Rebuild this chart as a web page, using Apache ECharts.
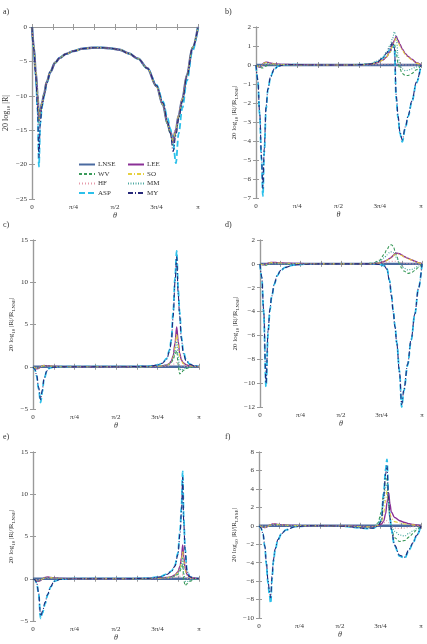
<!DOCTYPE html>
<html>
<head>
<meta charset="utf-8">
<script src="https://cdn.jsdelivr.net/npm/echarts@6/dist/echarts.min.js"></script>
<style>
html, body { margin: 0; padding: 0; background: #fff; }
#chart { width: 427px; height: 644px; }
</style>
</head>
<body>
<div id="chart"></div>
<script>
// angle in degrees (0..180 -> 0..pi)
var xTickValues = [0, 45, 90, 135, 180];
var xTickLabels = ['0', 'π/4', 'π/2', '3π/4', 'π'];
var seriesNames = ['LNSE', 'WV', 'HF', 'ASP', 'LEE', 'SO', 'MM', 'MY'];

// LNSE is the reference in b-f, so its ratio is flat
var xFlat = [0, 180];
var zeroLNSE = [0, 0];

// a) 20 log10 |R|
var xA = [0, 2, 4, 6, 7.5, 9, 11, 13, 16, 20, 25, 30, 37, 45, 55, 65, 75, 85, 95, 105, 115, 125, 135, 142, 147, 150, 153, 156, 159, 163, 168, 174, 180];
var aLNSE = [0, -3.0, -6.5, -9.8, -13.5, -12.3, -11.0, -9.8, -8.0, -6.5, -5.2, -4.5, -3.9, -3.5, -3.15, -3.02, -3.0, -3.1, -3.3, -3.85, -4.6, -6.0, -8.6, -11.3, -14.0, -15.3, -16.4, -15.0, -12.9, -10.5, -7.0, -3.0, 0];
var aWV = [0, -3.0, -6.6, -10.0, -14.0, -12.5, -11.1, -9.8, -8.0, -6.5, -5.2, -4.5, -3.9, -3.5, -3.15, -3.02, -3.0, -3.1, -3.3, -3.85, -4.6, -6.0, -8.6, -11.4, -14.2, -15.6, -17.2, -15.6, -13.2, -10.7, -7.1, -3.0, 0];
var aHF = [0, -3.0, -6.5, -9.7, -13.2, -12.2, -11.0, -9.8, -8.0, -6.5, -5.2, -4.5, -3.9, -3.5, -3.15, -3.02, -3.0, -3.1, -3.3, -3.85, -4.6, -6.0, -8.6, -11.2, -13.9, -15.1, -16.0, -14.8, -12.8, -10.4, -7.0, -3.0, 0];
var aASP = [0, -3.2, -7.0, -12.0, -20.3, -14.0, -11.5, -10.0, -8.1, -6.5, -5.2, -4.5, -3.9, -3.5, -3.15, -3.02, -3.0, -3.1, -3.3, -3.85, -4.6, -6.0, -8.4, -10.8, -13.2, -14.8, -16.8, -19.8, -15.5, -11.8, -7.8, -3.5, 0];
var aLEE = [0, -3.0, -6.5, -9.8, -13.7, -12.4, -11.0, -9.8, -8.0, -6.5, -5.2, -4.5, -3.9, -3.5, -3.15, -3.02, -3.0, -3.1, -3.3, -3.85, -4.6, -6.0, -8.6, -11.3, -14.0, -15.4, -16.8, -15.2, -13.0, -10.5, -7.0, -3.0, 0];
var aSO = [0, -3.0, -6.5, -9.8, -13.6, -12.3, -11.0, -9.8, -8.0, -6.5, -5.2, -4.5, -3.9, -3.5, -3.15, -3.02, -3.0, -3.1, -3.3, -3.85, -4.6, -6.0, -8.6, -11.3, -14.0, -15.3, -16.6, -15.1, -12.9, -10.5, -7.0, -3.0, 0];
var aMM = [0, -3.0, -6.6, -9.9, -13.8, -12.4, -11.0, -9.8, -8.0, -6.5, -5.2, -4.5, -3.9, -3.5, -3.15, -3.02, -3.0, -3.1, -3.3, -3.85, -4.6, -6.0, -8.6, -11.4, -14.1, -15.5, -17.0, -15.4, -13.1, -10.6, -7.0, -3.0, 0];
var aMY = [0, -3.2, -7.0, -11.8, -19.0, -13.8, -11.4, -10.0, -8.1, -6.5, -5.2, -4.5, -3.9, -3.5, -3.15, -3.02, -3.0, -3.1, -3.3, -3.85, -4.6, -6.0, -8.5, -11.0, -13.8, -15.4, -18.1, -15.8, -13.3, -10.8, -7.2, -3.1, 0];

// b)
var xB = [0, 2, 4, 6, 7.5, 9, 11, 13, 16, 20, 25, 30, 40, 60, 80, 100, 115, 125, 132, 138, 142, 146, 149, 151, 153, 155, 157, 159.5, 163, 166, 170, 175, 180];
var bWV = [0, -0.05, -0.1, -0.15, -0.15, -0.1, -0.05, 0, 0.02, 0.02, 0.01, 0, 0, 0, 0, 0, 0.02, 0.05, 0.12, 0.25, 0.4, 0.65, 0.95, 1.1, 0.6, 0.1, -0.2, -0.45, -0.55, -0.55, -0.45, -0.25, 0];
var bHF = [0, -0.03, -0.05, -0.03, 0, 0.03, 0.05, 0.04, 0.03, 0.02, 0.01, 0, 0, 0, 0, 0, 0, 0.01, 0.02, 0.03, 0.04, 0.05, 0.06, 0.06, 0.05, 0.04, 0.03, 0.02, 0.01, 0, 0, 0, 0];
var bASP = [0, -0.8, -2.6, -5.0, -6.9, -4.6, -2.3, -1.3, -0.6, -0.2, -0.05, 0, 0.02, 0, 0, 0, 0.02, 0.05, 0.15, 0.35, 0.55, 0.8, 1.1, 0.8, -1.8, -2.8, -3.6, -4.05, -3.3, -2.7, -1.95, -0.95, 0];
var bLEE = [0, -0.08, -0.12, -0.05, 0.05, 0.12, 0.15, 0.14, 0.1, 0.06, 0.04, 0.03, 0.02, 0.01, 0, 0, 0.02, 0.05, 0.12, 0.25, 0.4, 0.7, 1.05, 1.3, 1.5, 1.3, 1.1, 0.85, 0.6, 0.45, 0.3, 0.12, 0];
var bSO = [0, -0.07, -0.1, -0.04, 0.05, 0.1, 0.13, 0.12, 0.09, 0.05, 0.03, 0.02, 0.01, 0, 0, 0, 0.02, 0.05, 0.12, 0.25, 0.4, 0.68, 1.0, 1.25, 1.42, 1.2, 1.0, 0.78, 0.55, 0.4, 0.26, 0.1, 0];
var bMM = [0, -0.05, -0.1, -0.05, 0.03, 0.08, 0.1, 0.08, 0.05, 0.03, 0.02, 0.01, 0, 0, 0, 0, 0.03, 0.08, 0.2, 0.4, 0.65, 1.0, 1.4, 1.75, 1.5, 0.5, 0, -0.2, -0.3, -0.28, -0.2, -0.1, 0];
var bMY = [0, -0.8, -2.5, -4.8, -6.5, -4.4, -2.2, -1.25, -0.6, -0.2, -0.05, 0, 0.02, 0, 0, 0, 0.02, 0.05, 0.15, 0.35, 0.6, 0.9, 1.2, 0.9, -1.6, -2.7, -3.5, -3.95, -3.25, -2.65, -1.9, -0.9, 0];

// c)
var xC = [0, 2, 4, 6, 8.3, 10, 12, 15, 18, 22, 30, 45, 70, 100, 125, 135, 140, 145, 148, 150, 152, 154, 155.8, 157.5, 159, 161, 163, 166, 170, 175, 180];
var cWV = [0, -0.08, -0.2, -0.15, -0.03, 0.06, 0.1, 0.08, 0.05, 0.03, 0.01, 0, 0, 0, 0.02, 0.05, 0.1, 0.2, 0.3, 0.5, 0.85, 1.5, 1.9, 0.2, -0.85, -0.7, -0.45, -0.2, -0.08, 0, 0];
var cHF = [0, -0.05, -0.1, -0.08, 0, 0.04, 0.06, 0.05, 0.03, 0.02, 0.01, 0, 0, 0, 0, 0.02, 0.04, 0.08, 0.12, 0.18, 0.28, 0.4, 0.5, 0.35, 0.2, 0.1, 0.05, 0.02, 0, 0, 0];
var cASP = [0, -0.3, -1.1, -2.6, -4.25, -3.0, -1.5, -0.5, -0.15, -0.05, 0, 0, 0, 0, 0.05, 0.2, 0.4, 1.0, 2.0, 3.2, 6.5, 10.5, 13.7, 9.0, 6.5, 3.5, 1.8, 0.8, 0.3, 0.1, 0];
var cLEE = [0, -0.1, -0.25, -0.2, -0.05, 0.1, 0.15, 0.12, 0.08, 0.05, 0.02, 0, 0, 0, 0.02, 0.05, 0.1, 0.2, 0.4, 0.7, 1.3, 2.8, 4.7, 3.0, 1.6, 0.8, 0.45, 0.25, 0.1, 0.04, 0];
var cSO = [0, -0.1, -0.22, -0.18, -0.05, 0.08, 0.13, 0.1, 0.07, 0.04, 0.02, 0, 0, 0, 0.02, 0.05, 0.1, 0.2, 0.35, 0.6, 1.1, 2.3, 3.9, 2.5, 1.3, 0.65, 0.35, 0.2, 0.08, 0.03, 0];
var cMM = [0, -0.08, -0.2, -0.15, -0.03, 0.06, 0.1, 0.08, 0.05, 0.03, 0.01, 0, 0, 0, 0.02, 0.05, 0.1, 0.2, 0.35, 0.55, 1.0, 1.9, 3.0, 1.2, -0.2, -0.4, -0.3, -0.15, -0.05, 0, 0];
var cMY = [0, -0.3, -1.0, -2.4, -3.9, -2.8, -1.4, -0.5, -0.15, -0.05, 0, 0, 0, 0, 0.05, 0.2, 0.4, 0.9, 1.8, 3.0, 6.0, 10.0, 13.0, 8.5, 6.0, 3.2, 1.6, 0.7, 0.3, 0.1, 0];

// d)
var xD = [0, 2, 4, 6.7, 9, 11, 13, 16, 19, 23, 28, 37, 50, 70, 90, 110, 125, 133, 138, 141, 144, 146, 148, 150, 152, 155, 157.4, 160, 164, 168, 172, 176, 180];
var dWV = [0, -0.05, -0.1, -0.12, -0.05, 0.02, 0.05, 0.05, 0.04, 0.03, 0.02, 0.01, 0, 0, 0, 0, 0.05, 0.3, 0.8, 1.2, 1.55, 1.6, 1.5, 1.1, 0.6, 0, -0.35, -0.6, -0.8, -0.75, -0.55, -0.3, 0];
var dHF = [0, -0.02, -0.04, -0.03, 0, 0.02, 0.03, 0.03, 0.02, 0.02, 0.01, 0, 0, 0, 0, 0, 0.01, 0.04, 0.08, 0.12, 0.17, 0.2, 0.22, 0.22, 0.2, 0.15, 0.1, 0.06, 0.03, 0.01, 0, 0, 0];
var dASP = [0, -1.2, -4.0, -10.3, -5.8, -3.9, -2.75, -1.7, -1.0, -0.55, -0.3, -0.1, -0.03, 0, 0, 0, 0, -0.05, -0.15, -0.4, -1.4, -2.6, -3.9, -5.2, -6.6, -9.0, -12.0, -10.6, -8.5, -6.4, -4.25, -2.1, 0];
var dLEE = [0, -0.05, -0.08, -0.03, 0.05, 0.1, 0.12, 0.12, 0.1, 0.08, 0.06, 0.04, 0.02, 0, 0, 0, 0.02, 0.08, 0.2, 0.3, 0.45, 0.55, 0.7, 0.85, 0.9, 0.85, 0.75, 0.62, 0.48, 0.35, 0.22, 0.1, 0];
var dSO = [0, -0.05, -0.07, -0.03, 0.04, 0.08, 0.1, 0.1, 0.08, 0.06, 0.05, 0.03, 0.01, 0, 0, 0, 0.02, 0.07, 0.18, 0.28, 0.42, 0.52, 0.66, 0.8, 0.85, 0.8, 0.7, 0.58, 0.45, 0.33, 0.2, 0.09, 0];
var dMM = [0, -0.04, -0.08, -0.08, -0.02, 0.03, 0.05, 0.05, 0.04, 0.03, 0.02, 0.01, 0, 0, 0, 0, 0.04, 0.2, 0.5, 0.75, 0.95, 1.0, 0.95, 0.75, 0.45, 0.1, -0.15, -0.35, -0.5, -0.48, -0.35, -0.18, 0];
var dMY = [0, -1.1, -3.8, -10.0, -5.6, -3.8, -2.7, -1.65, -1.0, -0.55, -0.3, -0.1, -0.03, 0, 0, 0, 0, -0.05, -0.15, -0.45, -1.5, -2.7, -4.0, -5.3, -6.7, -9.1, -11.8, -10.5, -8.4, -6.3, -4.2, -2.1, 0];

// e)
var xE = [0, 2, 4, 6, 8.3, 10.5, 13, 16, 19, 23, 30, 45, 70, 100, 125, 138, 145, 150, 154, 157, 159.5, 161, 162.3, 163.5, 165, 167, 170, 175, 180];
var eWV = [0, -0.08, -0.2, -0.22, -0.15, 0, 0.1, 0.14, 0.1, 0.06, 0.02, 0, 0, 0, 0.02, 0.05, 0.1, 0.18, 0.3, 0.5, 0.9, 1.3, 1.7, -0.2, -0.8, -0.6, -0.3, -0.08, 0];
var eHF = [0, -0.05, -0.12, -0.14, -0.08, 0, 0.06, 0.08, 0.06, 0.04, 0.01, 0, 0, 0, 0, 0.03, 0.06, 0.1, 0.15, 0.22, 0.3, 0.38, 0.45, 0.3, 0.15, 0.06, 0.02, 0, 0];
var eASP = [0, -0.1, -0.5, -1.7, -4.7, -4.0, -3.0, -1.9, -1.0, -0.3, -0.05, 0, 0, 0, 0.05, 0.25, 0.55, 0.9, 1.6, 3.0, 5.8, 8.5, 12.7, 7.0, 3.5, 1.0, 0.25, 0.05, 0];
var eLEE = [0, -0.1, -0.25, -0.3, -0.2, 0, 0.15, 0.2, 0.15, 0.1, 0.04, 0, 0, 0, 0.02, 0.08, 0.15, 0.25, 0.45, 0.8, 1.5, 2.5, 4.0, 2.6, 1.2, 0.5, 0.2, 0.06, 0];
var eSO = [0, -0.1, -0.22, -0.27, -0.18, 0, 0.13, 0.18, 0.13, 0.08, 0.03, 0, 0, 0, 0.02, 0.07, 0.13, 0.22, 0.4, 0.7, 1.3, 2.1, 3.3, 2.1, 1.0, 0.4, 0.15, 0.05, 0];
var eMM = [0, -0.08, -0.2, -0.22, -0.15, 0, 0.1, 0.14, 0.1, 0.06, 0.02, 0, 0, 0, 0.02, 0.06, 0.12, 0.2, 0.35, 0.6, 1.1, 1.7, 2.5, 0.8, -0.3, -0.35, -0.2, -0.06, 0];
var eMY = [0, -0.1, -0.45, -1.6, -4.4, -3.8, -2.8, -1.8, -0.95, -0.3, -0.05, 0, 0, 0, 0.05, 0.22, 0.5, 0.85, 1.5, 2.8, 5.4, 8.0, 12.0, 6.5, 3.2, 0.9, 0.2, 0.05, 0];

// f)
var xF = [0, 2, 4.4, 6.5, 8.1, 10, 11.5, 13, 14.5, 16, 18, 21, 25, 30, 40, 55, 75, 95, 110, 120, 127, 132, 136, 138.5, 140.7, 142.2, 144, 145.5, 147, 150.7, 156.3, 161.9, 167, 171, 175, 180];
var fWV = [0, -0.03, -0.1, -0.15, -0.12, -0.05, 0.02, 0.08, 0.12, 0.14, 0.14, 0.1, 0.07, 0.04, 0.02, 0, 0, -0.03, -0.1, -0.15, -0.15, 0.3, 1.5, 3.5, 5.3, 5.0, 2.5, 0.8, -0.3, -1.3, -1.7, -1.6, -1.2, -0.85, -0.45, 0];
var fHF = [0, -0.02, -0.06, -0.08, -0.06, -0.02, 0.02, 0.05, 0.07, 0.08, 0.08, 0.06, 0.04, 0.02, 0.01, 0, 0, -0.02, -0.05, -0.08, -0.08, 0, 0.1, 0.3, 0.5, 0.55, 0.35, 0.1, -0.1, -0.25, -0.3, -0.25, -0.15, -0.1, -0.05, 0];
var fASP = [0, -0.2, -0.85, -2.3, -4.1, -6.2, -7.4, -8.4, -5.8, -3.9, -2.6, -1.55, -0.85, -0.45, -0.1, 0, 0, -0.05, -0.2, -0.3, -0.25, 0, 0.6, 3.5, 6.1, 7.2, 3.1, 1.0, -0.4, -2.2, -3.3, -3.5, -2.6, -1.9, -1.1, 0];
var fLEE = [0, -0.05, -0.15, -0.2, -0.15, -0.05, 0.05, 0.12, 0.18, 0.2, 0.2, 0.15, 0.1, 0.06, 0.03, 0.01, 0, -0.02, -0.08, -0.12, -0.1, 0.02, 0.2, 0.5, 1.3, 2.5, 3.6, 2.4, 1.5, 0.9, 0.55, 0.35, 0.22, 0.15, 0.08, 0];
var fSO = [0, -0.05, -0.14, -0.18, -0.14, -0.05, 0.04, 0.1, 0.16, 0.18, 0.18, 0.14, 0.09, 0.05, 0.02, 0.01, 0, -0.02, -0.08, -0.12, -0.1, 0.05, 0.4, 1.4, 2.8, 3.8, 2.6, 1.4, 0.8, 0.45, 0.3, 0.2, 0.14, 0.1, 0.05, 0];
var fMM = [0, -0.03, -0.1, -0.15, -0.12, -0.05, 0.02, 0.08, 0.12, 0.14, 0.14, 0.1, 0.07, 0.04, 0.02, 0, 0, -0.03, -0.1, -0.15, -0.15, 0.2, 1.0, 2.6, 4.3, 4.5, 2.2, 0.8, 0, -0.6, -1.0, -1.1, -0.8, -0.55, -0.3, 0];
var fMY = [0, -0.2, -0.8, -2.2, -3.9, -5.9, -7.0, -7.8, -5.5, -3.7, -2.5, -1.5, -0.85, -0.45, -0.1, 0, 0, -0.05, -0.2, -0.3, -0.25, 0, 0.5, 3.2, 5.6, 6.5, 2.9, 0.9, -0.4, -2.1, -3.2, -3.4, -2.5, -1.85, -1.05, 0];

var panels = [
    { label: 'a)', grid: [32, 27, 166, 172], y: [-25, 0, 5], gap: 21, ratio: false,
      lines: { LNSE: [xA, aLNSE], WV: [xA, aWV], HF: [xA, aHF], ASP: [xA, aASP], LEE: [xA, aLEE], SO: [xA, aSO], MM: [xA, aMM], MY: [xA, aMY] } },
    { label: 'b)', grid: [256, 27, 165, 171], y: [-7, 2, 1], gap: 13, ratio: true,
      lines: { LNSE: [xFlat, zeroLNSE], WV: [xB, bWV], HF: [xB, bHF], ASP: [xB, bASP], LEE: [xB, bLEE], SO: [xB, bSO], MM: [xB, bMM], MY: [xB, bMY] } },
    { label: 'c)', grid: [33, 240, 166, 169], y: [-5, 15, 5], gap: 17, ratio: true,
      lines: { LNSE: [xFlat, zeroLNSE], WV: [xC, cWV], HF: [xC, cHF], ASP: [xC, cASP], LEE: [xC, cLEE], SO: [xC, cSO], MM: [xC, cMM], MY: [xC, cMY] } },
    { label: 'd)', grid: [260, 240, 162, 167], y: [-12, 2, 2], gap: 19, ratio: true,
      lines: { LNSE: [xFlat, zeroLNSE], WV: [xD, dWV], HF: [xD, dHF], ASP: [xD, dASP], LEE: [xD, dLEE], SO: [xD, dSO], MM: [xD, dMM], MY: [xD, dMY] } },
    { label: 'e)', grid: [33, 452, 166, 169], y: [-5, 15, 5], gap: 17, ratio: true,
      lines: { LNSE: [xFlat, zeroLNSE], WV: [xE, eWV], HF: [xE, eHF], ASP: [xE, eASP], LEE: [xE, eLEE], SO: [xE, eSO], MM: [xE, eMM], MY: [xE, eMY] } },
    { label: 'f)', grid: [259, 452, 162, 166], y: [-10, 8, 2], gap: 19, ratio: true,
      lines: { LNSE: [xFlat, zeroLNSE], WV: [xF, fWV], HF: [xF, fHF], ASP: [xF, fASP], LEE: [xF, fLEE], SO: [xF, fSO], MM: [xF, fMM], MY: [xF, fMY] } }
];

var styles = {
    LNSE: { color: '#4a6aa0', width: 2.4, type: 'solid' },
    WV:   { color: '#3a9a5a', width: 1.1, type: [3, 2] },
    HF:   { color: '#e69aaa', width: 1.2, type: [1, 2] },
    ASP:  { color: '#2cc0ea', width: 1.8, type: [6, 3] },
    LEE:  { color: '#8a3096', width: 1.4, type: 'solid' },
    SO:   { color: '#e6d040', width: 1.1, type: [4, 2, 1, 2] },
    MM:   { color: '#4aa8a0', width: 1.2, type: [1, 1.5] },
    MY:   { color: '#26287a', width: 1.1, type: [5, 2, 1, 2] }
};

var font = 'Liberation Serif';
var axisColor = '#9a9a9a';
var minus = function (v) { return v < 0 ? '\u2212' + Math.abs(v) : String(v); };

var grids = [], xAxes = [], yAxes = [], series = [], graphics = [];

panels.forEach(function (p, i) {
    grids.push({ left: p.grid[0], top: p.grid[1], width: p.grid[2], height: p.grid[3] });
    var tick = { show: true, inside: true, length: 3, lineStyle: { color: axisColor } };
    var line = { show: true, lineStyle: { color: axisColor, width: 1.2 } };
    var xBase = {
        type: 'value', gridIndex: i, min: 0, max: 180, interval: 45,
        axisLine: line, axisTick: tick, splitLine: { show: false },
        minorTick: { show: true, splitNumber: 2, length: 3, lineStyle: { color: axisColor } }
    };
    xAxes.push(Object.assign({}, xBase, {
        position: 'bottom',
        name: 'θ', nameLocation: 'middle', nameGap: 13,
        nameTextStyle: { fontFamily: font, fontSize: 8, fontStyle: 'italic', color: '#333' },
        axisLabel: {
            fontFamily: font, fontSize: 7, color: '#333', margin: 5,
            formatter: function (v) { var k = xTickValues.indexOf(v); return k >= 0 ? xTickLabels[k] : ''; }
        }
    }));
    xAxes.push(Object.assign({}, xBase, { position: 'top', axisLabel: { show: false } }));

    var yBase = {
        type: 'value', gridIndex: i, min: p.y[0], max: p.y[1], interval: p.y[2],
        axisLine: line, axisTick: tick, splitLine: { show: false }
    };
    var yName = p.ratio ? '20 log{s|10} |R|/|R{s|LNSE}|' : '20 log{s|10} |R|';
    var nameSize = p.ratio ? 7 : 8;
    yAxes.push(Object.assign({}, yBase, {
        position: 'left',
        name: yName, nameLocation: 'middle', nameGap: p.gap,
        nameTextStyle: {
            fontFamily: font, fontSize: nameSize, color: '#333', lineHeight: 10,
            rich: { s: { fontFamily: font, fontSize: 5, lineHeight: 10, verticalAlign: 'bottom', color: '#333' } }
        },
        axisLabel: { fontFamily: font, fontSize: 7, color: '#333', margin: 5, formatter: minus }
    }));
    yAxes.push(Object.assign({}, yBase, { position: 'right', axisLabel: { show: false } }));

    seriesNames.forEach(function (name) {
        var xs = p.lines[name][0], ys = p.lines[name][1];
        var st = styles[name];
        series.push({
            name: name, type: 'line',
            xAxisIndex: 2 * i, yAxisIndex: 2 * i,
            symbol: 'none', smooth: 0.35, smoothMonotone: 'x',
            color: st.color,
            lineStyle: { color: st.color, width: st.width, type: st.type },
            silent: true,
            data: xs.map(function (x, k) { return [x, ys[k]]; })
        });
    });

    graphics.push({
        type: 'text', left: p.grid[0] < 100 ? 3 : 225, top: p.grid[1] - 19,
        style: { text: p.label, font: '8px "Liberation Serif"', fill: '#333' }
    });
});

var legendBase = {
    orient: 'vertical', itemWidth: 16, itemHeight: 6, itemGap: 2.5,
    itemStyle: { opacity: 0 },
    textStyle: { fontFamily: font, fontSize: 7, color: '#333', padding: [0, 0, 0, -2] }
};

var chart = echarts.init(document.getElementById('chart'));

var option = {
    animation: false,
    grid: grids,
    xAxis: xAxes,
    yAxis: yAxes,
    legend: [
        Object.assign({}, legendBase, { left: 73, top: 156, data: ['LNSE', 'WV', 'HF', 'ASP'] }),
        Object.assign({}, legendBase, { left: 122, top: 156, data: ['LEE', 'SO', 'MM', 'MY'] })
    ],
    graphic: graphics,
    series: series
};

chart.setOption(option);

window.onresize = function () {
    chart.resize();
};
</script>
</body>
</html>
